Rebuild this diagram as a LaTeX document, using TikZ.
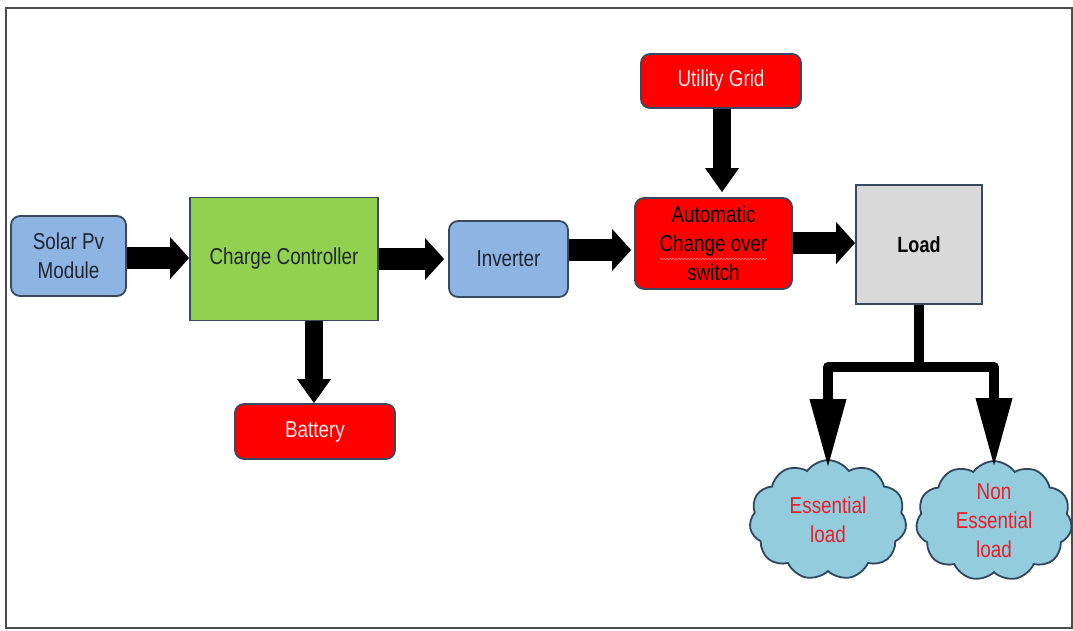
\documentclass[tikz,border=0pt]{standalone}
\usepackage{fontspec}
\setmainfont{Liberation Sans}[FakeStretch=0.82]
\usetikzlibrary{arrows.meta,shapes.symbols,decorations.pathmorphing}
\definecolor{edge}{RGB}{58,74,94}
\definecolor{boxblue}{RGB}{141,180,226}
\definecolor{boxgreen}{RGB}{146,208,80}
\definecolor{boxred}{RGB}{255,0,0}
\definecolor{boxgray}{RGB}{217,217,217}
\definecolor{cloudc}{RGB}{146,204,221}
\definecolor{cedge}{RGB}{46,70,94}
\definecolor{ctext}{RGB}{232,30,40}
\definecolor{dtext}{RGB}{30,38,48}
\definecolor{ltext}{RGB}{255,232,232}
\begin{document}
\begin{tikzpicture}[x=1pt,y=-1pt,
  box/.style={draw=edge, line width=1.8pt, inner sep=0pt, align=center,
    font=\fontsize{23}{29}\selectfont},
  rbox/.style={box, rounded corners=9pt},
  blk/.style={line width=22pt, -{Triangle[length=19pt,width=42pt,line width=0pt]}},
  vblk/.style={line width=18pt, -{Triangle[length=24pt,width=34pt,line width=0pt]}},
  brarrow/.style={line width=10pt, line join=round, -{Triangle[length=67pt,width=37pt,line width=0pt]}},
  cloudnode/.style={cloud, cloud puffs=11, cloud puff arc=110, draw=cedge, line width=1.8pt,
    fill=cloudc, inner sep=0pt, text=ctext, align=center,
    font=\fontsize{23}{29}\selectfont}]
\useasboundingbox (0,0) rectangle (1073,631);
\draw[line width=1.5pt, draw=gray!60!black] (6,8) rectangle (1072,628);

\node[rbox, fill=boxblue, text=dtext, minimum width=115pt, minimum height=80pt] (solar) at (68.5,256) {Solar Pv\\Module};
\node[box, fill=boxgreen, text=dtext, minimum width=188pt, minimum height=123pt] (cc) at (284,259) {Charge Controller};
\node[rbox, fill=boxblue, text=dtext, minimum width=119pt, minimum height=76pt] (inv) at (508.5,259) {Inverter};
\node[rbox, fill=boxred, text=black, minimum width=157pt, minimum height=91pt] (ats) at (713.5,243.5) {Automatic\\Change over\\switch};
\node[rbox, fill=boxred, text=ltext, minimum width=160pt, minimum height=54pt] (ug) at (721,81) {Utility Grid};
\node[box, fill=boxgray, text=black, minimum width=126pt, minimum height=119pt, font=\fontsize{22}{29}\selectfont\bfseries] (load) at (919,244.5) {Load};
\node[rbox, fill=boxred, text=ltext, minimum width=160pt, minimum height=55pt] (bat) at (315,431.5) {Battery};
\node[cloudnode, minimum width=157pt, minimum height=112pt] (ess) at (828,520) {Essential\\load};
\node[cloudnode, minimum width=156pt, minimum height=110pt] (non) at (994,521) {Non\\Essential\\load};

\draw[decorate, decoration={snake, amplitude=0.7pt, segment length=3pt}, red!45, line width=0.6pt] (660,259) -- (767,259);

\draw[blk] (solar.east |- 0,258) -- (cc.west |- 0,258);
\draw[blk, shorten >=4pt] (cc.east |- 0,259) -- (inv.west |- 0,259);
\draw[blk, shorten >=3pt] (inv.east |- 0,250) -- (ats.west |- 0,250);
\draw[blk] (ats.east |- 0,243) -- (load.west |- 0,243);
\draw[vblk, shorten >=5pt] (ug.south -| 722,0) -- (ats.north -| 722,0);
\draw[vblk] (cc.south -| 314,0) -- (bat.north -| 314,0);

\draw[line width=10pt] (load.south) -- ++(0,62) coordinate (jn);
\draw[brarrow, shorten >=-7pt] (jn) -| (ess.north);
\draw[brarrow, shorten >=-5pt] (jn) -| (non.north);
\end{tikzpicture}
\end{document}
